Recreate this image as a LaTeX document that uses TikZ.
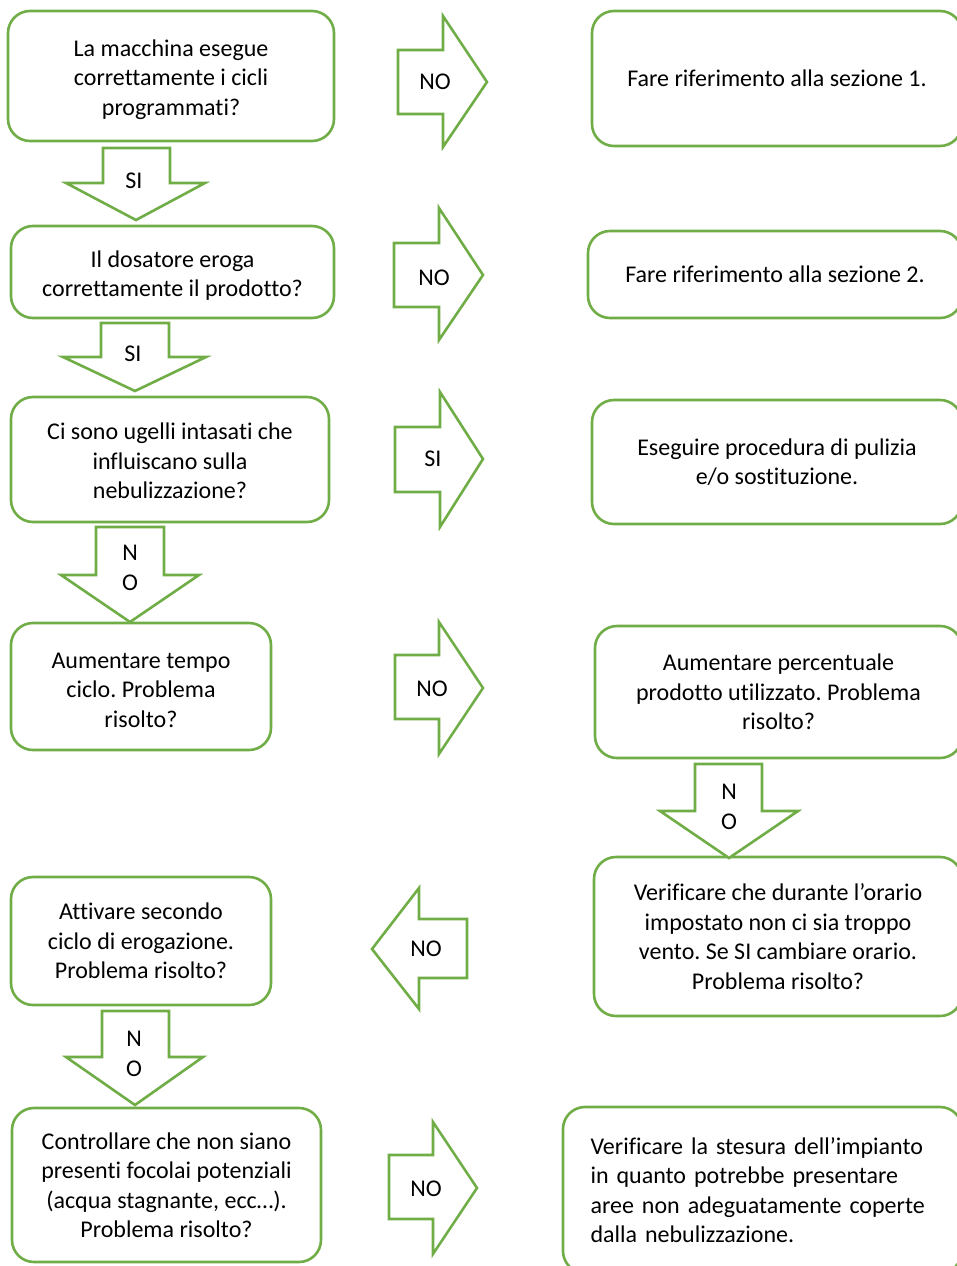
\documentclass[tikz,border=0pt]{standalone}
\usepackage{fontspec}
\setmainfont{Carlito}[Ligatures=NoCommon]
\definecolor{grn}{HTML}{70AD47}
\frenchspacing
\hyphenpenalty=10000
\begin{document}
\begin{tikzpicture}[x=1pt,y=-1pt,
  box/.style={draw=grn, line width=2.6pt, rounded corners=22pt, rectangle, align=center,
    inner sep=0pt, font=\fontsize{24}{29.5}\selectfont},
  blockarrow/.style={draw=grn, line width=2.6pt, line join=miter, fill=white},
  lbl/.style={inner sep=0pt, align=center, font=\fontsize{24}{29.5}\selectfont}]
\useasboundingbox (0,0) rectangle (957,1266);
\clip (0,0) rectangle (957,1266);

% boxes left column
\node[box, minimum width=326, minimum height=130] (b1) at (171,76)
  {\rule{0pt}{24pt}La macchina esegue\\correttamente i cicli\\programmati?};
\node[box, minimum width=323, minimum height=92] (b2) at (172.5,272)
  {\rule{0pt}{24pt}Il dosatore eroga\\correttamente il prodotto?};
\node[box, minimum width=318, minimum height=125] (b3) at (170,459.5)
  {\rule{0pt}{20pt}Ci sono ugelli intasati che\\influiscano sulla\\nebulizzazione?};
\node[box, minimum width=260, minimum height=127] (b4) at (141,686.5)
  {\rule{0pt}{23pt}Aumentare tempo\\ciclo. Problema\\risolto?};
\node[box, minimum width=260, minimum height=128] (b5) at (141,941)
  {Attivare secondo\\ciclo di erogazione.\\Problema risolto?};
\node[box, minimum width=309, minimum height=154] (b6) at (166.5,1185)
  {Controllare che non siano\\presenti focolai potenziali\\(acqua stagnante, ecc…).\\Problema risolto?};

% boxes right column
\node[box, minimum width=370, minimum height=135] (r1) at (777,78.5)
  {Fare riferimento alla sezione 1.};
\node[box, minimum width=374, minimum height=87] (r2) at (775,274.5)
  {Fare riferimento alla sezione 2.};
\node[box, minimum width=370, minimum height=124] (r3) at (777,462)
  {Eseguire procedura di pulizia\\e/o sostituzione.};
\node[box, minimum width=367, minimum height=132] (r4) at (778.5,692)
  {Aumentare percentuale\\prodotto utilizzato. Problema\\risolto?};
\node[box, minimum width=368, minimum height=159] (r5) at (778,936.5)
  {Verificare che durante l’orario\\impostato non ci sia troppo\\vento. Se SI cambiare orario.\\Problema risolto?};
\node[box, minimum width=399, minimum height=166, align=left, text width=344pt] (r6) at (762.5,1190)
  {Verificare la stesura dell’impianto\\in quanto potrebbe presentare\\aree non adeguatamente coperte\\dalla nebulizzazione.};

% right block arrows
\draw[blockarrow] (398,50) -- (443,50) -- (443,16) -- (487,82) -- (443,147) -- (443,114) -- (398,114) -- cycle;
\node[lbl] (a1) at (435,82) {NO};
\draw[blockarrow] (394,243) -- (439,243) -- (439,208) -- (483,275) -- (439,340) -- (439,307) -- (394,307) -- cycle;
\node[lbl] (a2) at (434,278) {NO};
\draw[blockarrow] (395,427) -- (440,427) -- (440,392) -- (483,459) -- (440,527) -- (440,492) -- (395,492) -- cycle;
\node[lbl] (a3) at (433,459) {SI};
\draw[blockarrow] (395,655) -- (439,655) -- (439,622) -- (483,688) -- (439,754) -- (439,719) -- (395,719) -- cycle;
\node[lbl] (a4) at (432,689) {NO};
\draw[blockarrow] (389,1155) -- (433,1155) -- (433,1122) -- (477,1188) -- (433,1254) -- (433,1219) -- (389,1219) -- cycle;
\node[lbl] (a6) at (426,1189) {NO};

% left block arrow
\draw[blockarrow] (467,919) -- (419,919) -- (419,888) -- (372,949) -- (419,1009) -- (419,978) -- (467,978) -- cycle;
\node[lbl] (a5) at (426,949) {NO};

% down block arrows
\draw[blockarrow] (103,148) -- (103,183) -- (66,183) -- (136,220) -- (205,183) -- (170,183) -- (170,148) -- cycle;
\node[lbl] (d1) at (134,181) {SI};
\draw[blockarrow] (101,323) -- (101,357) -- (63,357) -- (135,391) -- (206,357) -- (169,357) -- (169,323) -- cycle;
\node[lbl] (d2) at (133,354) {SI};
\draw[blockarrow] (96,527) -- (96,575) -- (61,575) -- (130,622) -- (199,575) -- (164,575) -- (164,527) -- cycle;
\node[lbl] (d3) at (130,568) {N\\O};
\draw[blockarrow] (695,764) -- (695,811) -- (660,811) -- (729,858) -- (798,811) -- (762,811) -- (762,764) -- cycle;
\node[lbl] (d4) at (729,807) {N\\O};
\draw[blockarrow] (102,1011) -- (102,1057) -- (66,1057) -- (135,1105) -- (203,1057) -- (169,1057) -- (169,1011) -- cycle;
\node[lbl] (d5) at (134,1054) {N\\O};
\end{tikzpicture}
\end{document}
